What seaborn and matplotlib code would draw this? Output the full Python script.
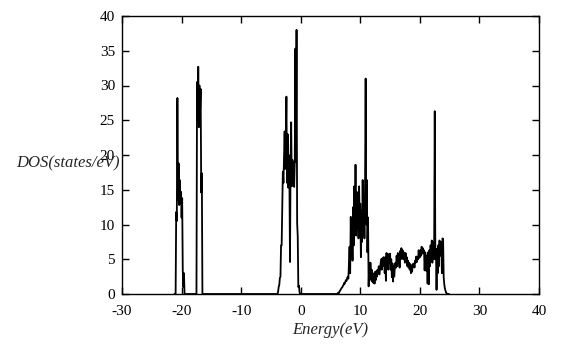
import numpy as np
import pandas as pd
import matplotlib
matplotlib.use("Agg")
import matplotlib.pyplot as plt
import seaborn as sns

# DOS, 0.1 eV grid inside each band, zero elsewhere
band1_start = -21.2
band1_dos = [0, 0, 0, 11.8, 10.5, 28.2, 13.5, 18.8, 12.8, 16.4, 13.0, 14.7,
             11.0, 13.8, 3.4, 1.0, 3.0, 0.0, 0]

band2_start = -17.6
band2_dos = [0, 0, 30.5, 25.0, 32.7, 24.0, 30.0, 26.0, 29.5, 14.6, 17.4, 0, 0]

band3_start = -3.9
band3_dos = [0, 0.3, 1.0, 1.3, 2.3, 2.5, 7.0, 7.0, 12.0, 17.6, 16.0, 19.5,
             23.4, 18.0, 22.0, 28.4, 16.0, 23.0, 15.3, 20.0, 17.0, 4.6, 19.0,
             24.7, 15.5, 19.3, 17.0, 19.0, 15.4, 19.0, 35.3, 19.0, 38.0, 10.2,
             8.3, 1.0, 1.2, 0.3, 0]

band4_start = 6.0
band4_dos = [0, 0, 0.1, 0.2, 0.1, 0.3, 0.5, 0.6, 0.8, 0.9,
             1.0, 1.2, 1.3, 1.6, 1.5, 1.8, 2.0, 1.9, 2.3, 2.5,
             2.2, 4.5, 6.8, 3.0, 11.1, 5.5, 9.5, 4.8, 12.5, 7.0,
             15.5, 9.0, 18.6, 8.4, 14.7, 9.5, 13.5, 8.0, 15.5, 10.0,
             13.0, 5.3, 12.0, 7.5, 16.4, 9.0, 12.5, 8.0, 15.5, 31.0,
             10.0, 16.4, 6.0, 11.0, 1.1, 4.5, 2.0, 4.5, 2.6, 3.5,
             1.8, 3.0, 1.6, 2.4, 1.5, 3.2, 2.0, 3.3, 2.5, 3.5,
             3.0, 4.0, 2.8, 3.5, 4.2, 5.0, 3.5, 5.1, 4.0, 5.3,
             4.9, 3.0, 5.3, 1.9, 5.9, 4.0, 5.8, 3.5, 5.5, 4.5,
             5.8, 3.5, 5.0, 2.4, 4.4, 1.8, 4.0, 2.5, 3.8, 4.5,
             3.8, 5.5, 4.0, 5.9, 4.5, 5.5, 3.8, 6.2, 5.0, 6.6,
             5.5, 6.3, 5.0, 6.0, 5.3, 4.5, 5.9, 4.8, 5.3, 4.0,
             4.8, 3.8, 4.5, 3.5, 4.3, 3.0, 4.0, 3.2, 4.3, 4.0,
             4.4, 3.8, 4.8, 4.5, 5.4, 4.6, 5.3, 5.0, 6.3, 5.2,
             5.3, 6.3, 5.5, 6.8, 5.8, 6.6, 6.0, 6.3, 3.4, 6.0,
             5.5, 3.3, 5.5, 1.5, 6.0, 1.4, 6.3, 4.0, 7.0, 5.0,
             7.7, 4.5, 7.5, 5.0, 6.8, 26.3, 5.0, 6.5, 0.6, 5.9,
             3.0, 7.0, 4.0, 7.7, 5.5, 6.8, 7.5, 3.0, 8.0, 7.9,
             2.4, 1.4, 0.8, 0.5, 0.2, 0.1, 0, 0, 0, 0]

xticks = [-30, -20, -10, 0, 10, 20, 30, 40]
xtick_labels = ["-30", "-20", "-10", "0", "10", "20", "30", "40"]
yticks = [0, 5, 10, 15, 20, 25, 30, 35, 40]
ytick_labels = ["0", "5", "10", "15", "20", "25", "30", "35", "40"]

# stitch the bands into one curve
energy, dos = [], []
for start, vals in [(band1_start, band1_dos), (band2_start, band2_dos),
                    (band3_start, band3_dos), (band4_start, band4_dos)]:
    energy.extend(np.round(start + 0.1 * np.arange(len(vals)), 2))
    dos.extend(vals)
df = pd.DataFrame({"Energy": energy, "DOS": dos})

sns.set_style("ticks")
plt.rcParams["font.family"] = ["Liberation Serif", "DejaVu Serif"]

fig = plt.figure(figsize=(5.64, 3.55), dpi=100)
ax = fig.add_axes([122 / 564, 1 - 294 / 355, (539 - 122) / 564, (294 - 16) / 355])

sns.lineplot(data=df, x="Energy", y="DOS", ax=ax, color="black",
             linewidth=1.3, estimator=None, sort=False)

ax.set_xlim(-30, 40)
ax.set_ylim(0, 40)
ax.set_xticks(xticks)
ax.set_xticklabels(xtick_labels, fontsize=11)
ax.set_yticks(yticks)
ax.set_yticklabels(ytick_labels, fontsize=11)
ax.tick_params(direction="in", length=5, width=1, top=True, right=True,
               colors="black")
ax.tick_params(axis="x", pad=8)
ax.tick_params(axis="y", pad=5)
for s in ax.spines.values():
    s.set_visible(True)
    s.set_linewidth(1.0)
    s.set_color("black")

ax.set_xlabel("Energy(eV)", fontsize=12, fontstyle="italic", labelpad=3)
ax.set_ylabel("DOS(states/eV)", fontsize=12, fontstyle="italic", rotation=0,
              ha="right", va="center")
ax.yaxis.set_label_coords(-0.005, (294 - 163) / 278)

fig.savefig("out.png", dpi=100)
